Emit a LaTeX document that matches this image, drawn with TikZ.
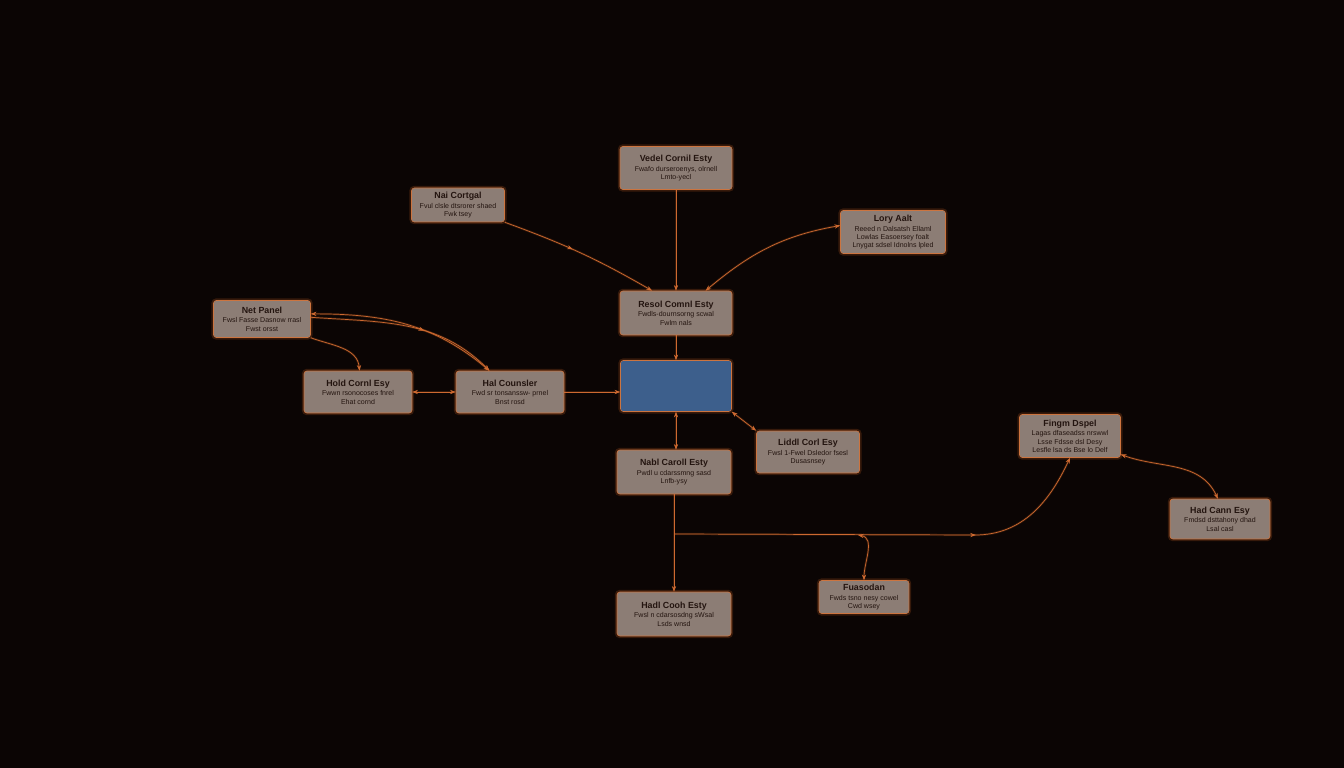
\documentclass[tikz,border=0pt]{standalone}
\usepackage{fontspec}
\setmainfont{Liberation Sans}
\usetikzlibrary{arrows.meta,decorations.markings}
\definecolor{bgdark}{RGB}{11,5,4}
\definecolor{boxfill}{RGB}{140,125,117}
\definecolor{glow}{RGB}{232,112,40}
\definecolor{wire}{RGB}{205,105,48}
\definecolor{ink}{RGB}{35,20,15}
\definecolor{hubblue}{RGB}{61,95,140}
\begin{document}
\begin{tikzpicture}[x=0.025cm,y=-0.025cm,
  card/.style={draw=glow!70!boxfill,line width=0.4pt,fill=boxfill,rounded corners=2pt,
    text=ink,align=center,inner sep=0pt,font=\fontsize{5}{5.9}\selectfont,
    preaction={draw=glow,line width=3pt,opacity=0.2}},
  hub/.style={card,fill=hubblue},
  link/.style={draw=wire,line width=0.5pt,-{Stealth[length=4pt,width=3pt]},
    preaction={draw=glow,line width=1.6pt,opacity=0.18}},
  both/.style={link,{Stealth[length=4pt,width=3pt]}-{Stealth[length=4pt,width=3pt]}},
  midtip/.style={postaction={decorate},decoration={markings,
    mark=at position #1 with {\arrow{Stealth[length=4pt,width=3pt]}}}}]
\fill[bgdark] (0,0) rectangle (1344,768);
\useasboundingbox (0,0) rectangle (1344,768);
% nodes
\newcommand\ttl[1]{{\fontsize{6.3}{7.5}\selectfont\bfseries #1}\\[1pt]}
\node[card,minimum width=112*0.025cm,minimum height=43*0.025cm] (vedel) at (676,168)
  {\ttl{Vedel Cornil Esty}Fwafo durseroenys, olrnell\\Lmto-yecl};
\node[card,minimum width=93*0.025cm,minimum height=34*0.025cm] (nai) at (458,205)
  {\ttl{Nai Cortgal}Fvul clsle dtsrorer shaed\\Fwk tsey};
\node[card,minimum width=105*0.025cm,minimum height=43*0.025cm] (lory) at (893,232)
  {\ttl{Lory Aalt}Reeed n Dalsatsh Ellaml\\Lowlas Easoersey foalt\\Lnygat sdsel Idnolns lpled};
\node[card,minimum width=112*0.025cm,minimum height=44*0.025cm] (resol) at (676,313)
  {\ttl{Resol Comnl Esty}Fwdls-dournsorng scwal\\Fwlm nals};
\node[card,minimum width=97*0.025cm,minimum height=37*0.025cm] (netp) at (262,319)
  {\ttl{Net Panel}Fwsl Fasse Dasnow rrasl\\Fwst orsst};
\node[hub,minimum width=111*0.025cm,minimum height=51*0.025cm] (core) at (676,386) {};
\node[card,minimum width=108*0.025cm,minimum height=42*0.025cm] (hold) at (358,392)
  {\ttl{Hold Cornl Esy}Fwwn rsonocoses fnrel\\Ehat cornd};
\node[card,minimum width=108*0.025cm,minimum height=42*0.025cm] (couns) at (510,392)
  {\ttl{Hal Counsler}Fwd sr tonsanssw- prnel\\Bnst rosd};
\node[card,minimum width=103*0.025cm,minimum height=42*0.025cm] (liddl) at (808,452)
  {\ttl{Liddl Corl Esy}Fwsl 1-Fwel Dsledor fsesl\\Dusasnsey};
\node[card,minimum width=114*0.025cm,minimum height=44*0.025cm] (nabl) at (674,472)
  {\ttl{Nabl Caroll Esty}Pwdl u cdarssmng sasd\\Lnfb-ysy};
\node[card,minimum width=101*0.025cm,minimum height=43*0.025cm] (fingm) at (1070,436)
  {\ttl{Fingm Dspel}Lagas dfaseadss nrswwl\\Lsse Fdsse dsl Desy\\Lesfle lsa ds Bse lo Delf};
\node[card,minimum width=100*0.025cm,minimum height=40*0.025cm] (hadc) at (1220,519)
  {\ttl{Had Cann Esy}Fmdsd dsttahony dhad\\Lsal casl};
\node[card,minimum width=90*0.025cm,minimum height=33*0.025cm] (fuaso) at (864,597)
  {\ttl{Fuasodan}Fwds tsno nesy cowel\\Cwd wsey};
\node[card,minimum width=114*0.025cm,minimum height=44*0.025cm] (hadl) at (674,614)
  {\ttl{Hadl Cooh Esty}Fwsl n cdarsosdng sWsal\\Lsds wnsd};
\coordinate (jn) at (674,534);
\coordinate (br) at (858,535);
\coordinate (kn) at (975,535);
% connectors
\draw[link] (vedel.south) -- (resol.north);
\draw[link,midtip=0.45] (nai.south east) to[out=-20,in=150] (resol.137);
\draw[both] (lory.173) to[out=190,in=40] (resol.37);
\draw[link] (resol.south) -- (core.north);
\draw[both,midtip=0.6] (netp.6) to[out=0,in=140] (couns.134);
\draw[link] (netp.2) to[out=-4,in=135] (couns.134);
\draw[link] (netp.south east) to[out=-20,in=95] (hold.86);
\draw[both] (hold.east) -- (couns.west);
\draw[link] (couns.east) -- (couns.east -| core.west);
\draw[both] (core.south) -- (core.south |- nabl.north);
\draw[both] (core.south east) -- (liddl.north west);
\draw[link] (nabl.south) -- (hadl.north);
\draw[link,midtip=0.7] (jn) -- (kn) to[out=0,in=-115] (fingm.south);
\draw[both] (br) to[out=-10,in=90] (fuaso.north);
\draw[both] (fingm.-20) to[out=-20,in=115] (hadc.96);
\end{tikzpicture}
\end{document}
